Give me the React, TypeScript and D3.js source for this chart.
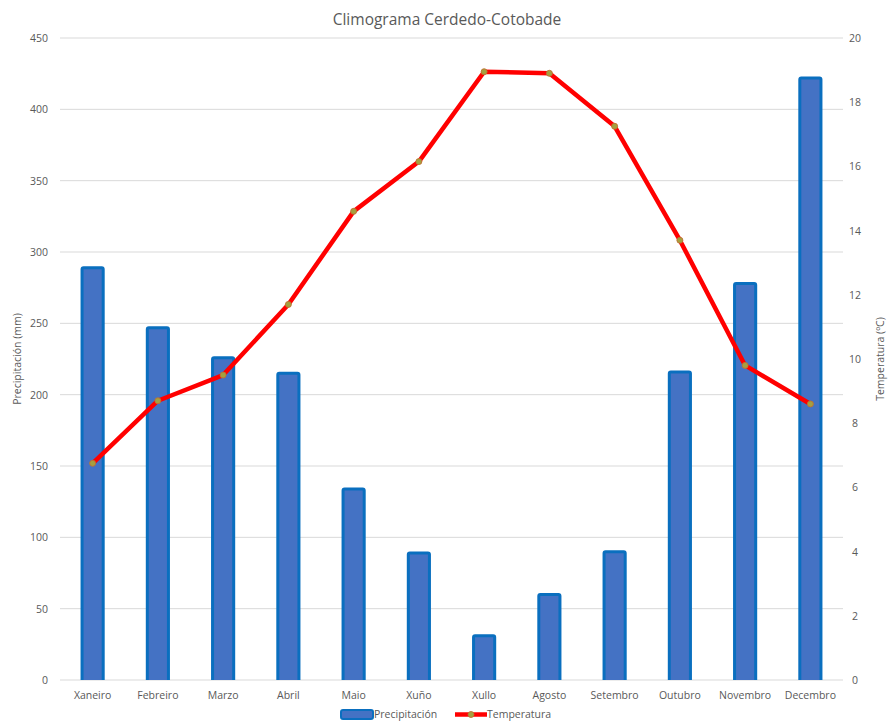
import { useEffect } from "react";
import * as d3 from "d3";

const months = ["Xaneiro", "Febreiro", "Marzo", "Abril", "Maio", "Xuño", "Xullo", "Agosto", "Setembro", "Outubro", "Novembro", "Decembro"];
const precipitation = [290, 248, 227, 216, 135, 90, 32, 61, 91, 217, 279, 423];
const temperature = [6.75, 8.7, 9.5, 11.7, 14.6, 16.15, 18.95, 18.9, 17.25, 13.7, 9.8, 8.6];
const precipTicks = [0, 50, 100, 150, 200, 250, 300, 350, 400, 450];
const tempTicks = [0, 2, 4, 6, 8, 10, 12, 14, 16, 18, 20];

const W = 889;
const H = 722;
const margin = { top: 38, right: 46, bottom: 42, left: 60 };
const font = "'Open Sans', 'Liberation Sans', sans-serif";
const grey = "#595959";

export default function App() {
  useEffect(() => {
    document.body.style.margin = "0";
  }, []);

  const x = d3.scaleBand().domain(months).range([margin.left, W - margin.right]).paddingInner(0.63).paddingOuter(0.315);
  const yP = d3.scaleLinear().domain([0, 450]).range([H - margin.bottom, margin.top]);
  const yT = d3.scaleLinear().domain([0, 20]).range([H - margin.bottom, margin.top]);
  const center = (m: string) => (x(m) ?? 0) + x.bandwidth() / 2;

  const line = d3
    .line<number>()
    .x((_, i) => center(months[i]))
    .y((d) => yT(d));

  const bw = x.bandwidth();

  return (
    <svg width={W} height={H} style={{ display: "block", background: "#fff" }} fontFamily={font}>
      <text x={447} y={25} textAnchor="middle" fontSize={15.5} fill={grey}>
        Climograma Cerdedo-Cotobade
      </text>

      {precipTicks.map((t) => (
        <g key={t}>
          <line x1={margin.left} x2={W - margin.right} y1={yP(t)} y2={yP(t)} stroke="#d9d9d9" strokeWidth={1} />
          <text x={48} y={yP(t) + 4} textAnchor="end" fontSize={10.5} fill={grey}>
            {t}
          </text>
        </g>
      ))}
      {tempTicks.map((t) => (
        <text key={t} x={855} y={yT(t) + 4} textAnchor="middle" fontSize={10.5} fill={grey}>
          {t}
        </text>
      ))}

      {months.map((m, i) => (
        <path
          key={m}
          d={`M${x(m)! + 1.5},${yP(0)} V${yP(precipitation[i]) + 3} q0,-1.5 1.5,-1.5 H${x(m)! + bw - 3} q1.5,0 1.5,1.5 V${yP(0)}`}
          fill="#4472c4"
          stroke="#0a6fbf"
          strokeWidth={3}
        />
      ))}

      {months.map((m) => (
        <text key={m} x={center(m)} y={699} textAnchor="middle" fontSize={10.5} fill={grey}>
          {m}
        </text>
      ))}

      <path d={line(temperature) ?? ""} fill="none" stroke="#ff0000" strokeWidth={4.5} strokeLinejoin="round" />
      {temperature.map((t, i) => (
        <circle key={i} cx={center(months[i])} cy={yT(t)} r={3} fill="#a5a040" stroke="#c07030" strokeWidth={0.9} />
      ))}

      <text transform={`translate(21,${(yP(0) + yP(450)) / 2}) rotate(-90)`} textAnchor="middle" fontSize={10.5} fill={grey}>
        Precipitación (mm)
      </text>
      <text transform={`translate(884,${(yP(0) + yP(450)) / 2}) rotate(-90)`} textAnchor="middle" fontSize={10.5} fill={grey}>
        Temperatura (ºC)
      </text>

      <g>
        <rect x={341} y={710} width={32} height={9} rx={2} fill="#4472c4" stroke="#0a6fbf" strokeWidth={2} />
        <text x={374} y={718} fontSize={10.5} fill={grey}>
          Precipitación
        </text>
        <line x1={455} x2={487} y1={714.5} y2={714.5} stroke="#ff0000" strokeWidth={4.5} />
        <circle cx={471} cy={714.5} r={3} fill="#a5a040" stroke="#c07030" strokeWidth={0.9} />
        <text x={487} y={718} fontSize={10.5} fill={grey}>
          Temperatura
        </text>
      </g>
    </svg>
  );
}
